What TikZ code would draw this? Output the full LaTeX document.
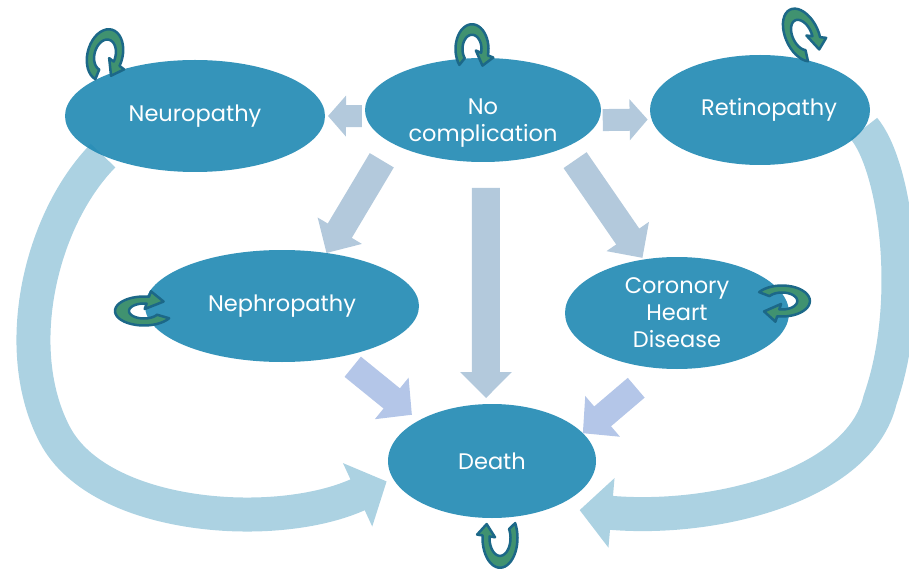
\documentclass[tikz,border=0pt]{standalone}
\usepackage{fontspec}
\setmainfont{Poppins}
\usetikzlibrary{shapes.geometric,arrows.meta,backgrounds}

\definecolor{stateblue}{RGB}{31,136,179}
\definecolor{flowgray}{RGB}{179,201,220}
\definecolor{flowlav}{RGB}{180,198,232}
\definecolor{swoopblue}{RGB}{172,210,226}
\definecolor{loopgreen}{RGB}{64,146,112}
\definecolor{loopedge}{RGB}{28,104,136}

\tikzset{
  phasetext/.style={text=white, align=center, font=\fontsize{22.5}{27}\selectfont},
  phase/.style={ellipse, fill=stateblue, fill opacity=0.9, text opacity=1, phasetext,
    inner sep=0pt, outer sep=0pt},
  flow/.style={draw=flowgray, line width=28pt, -{Triangle[length=26pt,width=50pt]}},
  sideflow/.style={draw=flowgray, line width=22pt, -{Triangle[length=18pt,width=40pt]}},
  deathflow/.style={draw=flowlav, line width=26pt, -{Triangle[length=26pt,width=52pt]}},
  swoop/.style={draw=swoopblue, line width=34pt, -{Triangle[length=32pt,width=68pt]}},
  loopband/.style={fill=loopgreen, draw=loopedge, line width=2.5pt, line join=round}
}

% curved self arrow: [transform]{cx}{cy}{radius}{from angle}{to angle}{head length}
\newcommand\selfloop[7][]{%
  \begin{scope}[shift={(#2,#3)},#1]
    \pgfmathsetmacro\lpdir{#6>#5?1:-1}
    \pgfmathsetmacro\lpout{#4+3.5}
    \pgfmathsetmacro\lpin{#4-3.5}
    \pgfmathsetmacro\lphout{#4+9}
    \pgfmathsetmacro\lphin{#4-9}
    \pgfmathsetmacro\lptx{#4*cos(#6)+#7*cos(#6+\lpdir*90)}
    \pgfmathsetmacro\lpty{#4*sin(#6)+#7*sin(#6+\lpdir*90)}
    \filldraw[loopband] plot[domain=#5:#6,samples=30] (\x:\lpout) -- (#6:\lphout)
      -- (\lptx,\lpty) -- (#6:\lphin) -- plot[domain=#6:#5,samples=30] (\x:\lpin) -- cycle;
  \end{scope}}

\begin{document}
\begin{tikzpicture}[x=1pt,y=-1pt]
  \useasboundingbox (0,0) rectangle (909,569);

  \node[phase, minimum width=236pt, minimum height=104pt,
    label={[phasetext, yshift=-13pt]center:No\\complication}] (nc) at (483,110) {};
  \node[phase, minimum width=260pt, minimum height=112pt] (neuro) at (195,116) {Neuropathy};
  \node[phase, minimum width=220pt, minimum height=110pt,
    label={[phasetext, xshift=9pt]center:Retinopathy}] (retino) at (760,110) {};
  \node[phase, minimum width=274pt, minimum height=112pt] (neph) at (282,306) {Nephropathy};
  \node[phase, minimum width=224pt, minimum height=112pt] (chd) at (677,313) {Coronory\\Heart\\Disease};
  \node[phase, minimum width=208pt, minimum height=114pt] (death) at (492,461) {Death};

  \begin{scope}[on background layer]
    % long way round to death
    \draw[swoop, shorten >=7pt] (neuro.south west) .. controls (40,220) and (10,350) .. (55,435)
      .. controls (100,520) and (277,532) .. (death.190);
    \draw[swoop, shorten >=28pt] (retino.350) .. controls (895,165) and (915,300) .. (880,400)
      .. controls (860,485) and (716,522) .. (death.322);

    \draw[sideflow, shorten <=4pt, shorten >=3pt] (nc.183) -- (neuro.0);
    \draw[sideflow, shorten <=4pt, shorten >=4pt] (nc.355) -- (retino.185);
    \draw[flow, shorten <=20pt] (nc.200) -- (neph.50);
    \draw[flow, shorten <=26pt, shorten >=6pt] (nc.273) -- (death.96);
    \draw[flow, shorten <=16pt, shorten >=2pt] (nc.336) -- (chd.122);
    \draw[deathflow, shorten <=16pt, shorten >=9pt] (neph.319) -- (death.151);
    \draw[deathflow, shorten <=30pt] (chd.252) -- (death.17);
  \end{scope}

  \selfloop[rotate=-15, yscale=1.5]{105}{55}{14}{100}{375}{9}
  \selfloop[yscale=1.5]{472}{49}{13}{140}{375}{8}
  \selfloop[rotate=25, yscale=1.7]{802}{35}{13}{110}{380}{8}
  \selfloop[xscale=2]{144}{311}{11}{30}{280}{8}
  \selfloop[xscale=1.8]{782}{301}{12}{215}{460}{8}
  \selfloop[yscale=1.7]{500}{538}{14}{-30}{185}{7}
\end{tikzpicture}
\end{document}
